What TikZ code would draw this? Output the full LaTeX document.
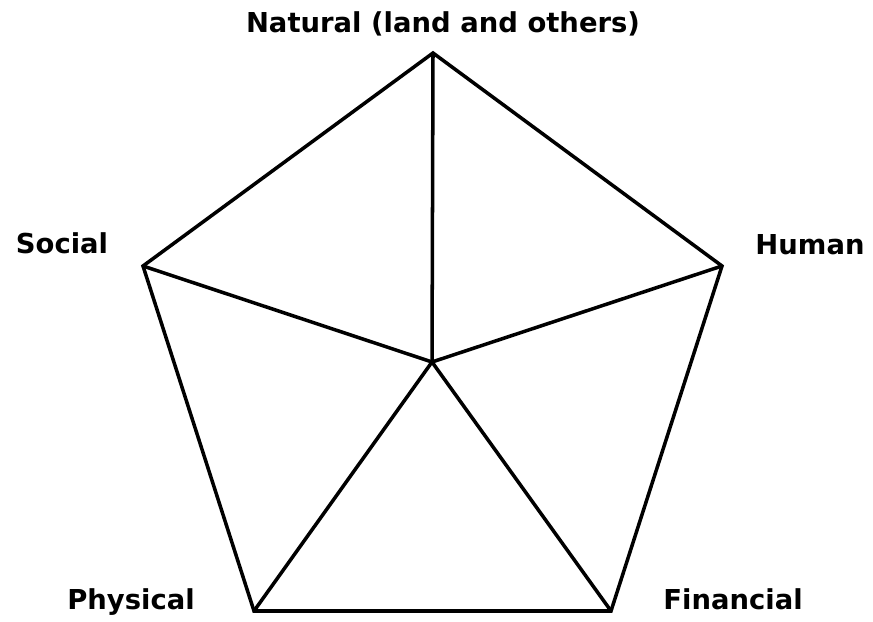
\documentclass[tikz,border=0pt]{standalone}
\usepackage{fontspec}
\newfontfamily\labelfont{DejaVu Sans}
\usepackage{tikz}
\usetikzlibrary{positioning}
\tikzset{
  edge-line/.style={draw=black,line width=1pt,line join=miter},
  cap-label/.style={font=\labelfont\bfseries\fontsize{7.8}{9}\selectfont,
    inner sep=0pt,anchor=base},
}

\begin{document}
\begin{tikzpicture}[x=0.01cm,y=-0.01cm]
  \useasboundingbox (0,0) rectangle (873,622);
  % corners of the pentagon and its centre
  \coordinate (ctr) at (432,362);
  \coordinate (nat) at (433,53);
  \coordinate (hum) at (722,266);
  \coordinate (fin) at (611,611);
  \coordinate (phy) at (254,611);
  \coordinate (soc) at (143,266);
  \node[cap-label] (nat-lbl) at (443,33) {Natural (land and others)};
  \node[cap-label] (hum-lbl) at (810,255) {Human};
  \node[cap-label] (fin-lbl) at (733,610) {Financial};
  \node[cap-label] (phy-lbl) at (131,610) {Physical};
  \node[cap-label] (soc-lbl) at (62,254) {Social};
  \draw[edge-line] (nat) -- (hum) -- (fin) -- (phy) -- (soc) -- cycle;
  \foreach \v in {nat,hum,fin,phy,soc}
    \draw[edge-line] (ctr) -- (\v);
\end{tikzpicture}
\end{document}
